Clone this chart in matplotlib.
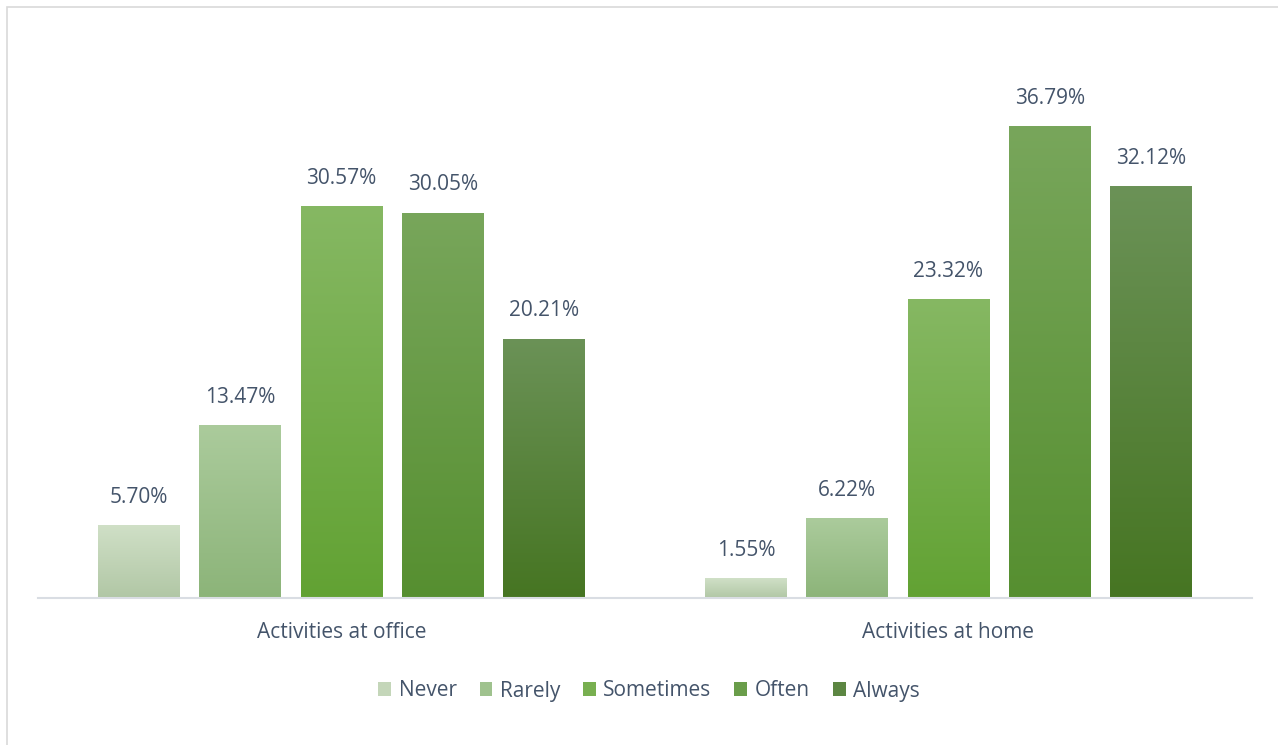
import numpy as np
import matplotlib as mpl; mpl.use('Agg')
import matplotlib.pyplot as plt
from matplotlib.colors import LinearSegmentedColormap
from matplotlib.patches import Rectangle

plt.rcParams['font.family'] = ['Open Sans', 'DejaVu Sans']
TXT = '#44546a'

groups = ['Activities at office', 'Activities at home']
levels = ['Never', 'Rarely', 'Sometimes', 'Often', 'Always']
never = [5.70, 1.55]
rarely = [13.47, 6.22]
sometimes = [30.57, 23.32]
often = [30.05, 36.79]
always = [20.21, 32.12]
series = [never, rarely, sometimes, often, always]

# (top, bottom) gradient colours for each frequency level
grad = [('#d0e0c7', '#b1c7a5'),
        ('#abcb9c', '#8cb479'),
        ('#86b863', '#62a233'),
        ('#78a65b', '#568f30'),
        ('#6b9257', '#467522')]

fig = plt.figure(figsize=(12.78, 7.45), dpi=100)
ax = fig.add_axes([38/1278, (745-598)/745, (1252-38)/1278, (598-85)/745])
ax.set_xlim(-0.5, 1.5); ax.set_ylim(0, 40)

x = np.arange(len(groups))
pitch = 0.1669; w = 0.135
for i, (vals, (ctop, cbot)) in enumerate(zip(series, grad)):
    pos = x + (i - 2) * pitch
    bars = ax.bar(pos, vals, w, color='none', edgecolor='none', label='_nolegend_')
    cmap = LinearSegmentedColormap.from_list('g%d' % i, [cbot, ctop])
    for b, v in zip(bars, vals):
        x0 = b.get_x()
        im = ax.imshow(np.linspace(0, 1, 256).reshape(-1, 1), cmap=cmap, origin='lower',
                       aspect='auto', extent=(x0, x0 + w, 0, v), zorder=2)
        im.set_clip_path(b)
        ax.annotate(f'{v:.2f}%', (x0 + w/2, v), xytext=(0, 12.5), textcoords='offset points',
                    ha='center', va='bottom', fontsize=15, color=TXT)
    # legend swatch in a mid-to-upper tone of the gradient
    ax.bar([np.nan], [np.nan], color=cmap(0.6), label=levels[i])

ax.set_xlim(-0.5, 1.5); ax.set_ylim(0, 40)
ax.set_yticks([])
ax.set_xticks(x); ax.set_xticklabels(groups, fontsize=15, color=TXT)
ax.tick_params(axis='x', length=0, pad=17)
for s in ['top', 'right', 'left']:
    ax.spines[s].set_visible(False)
ax.spines['bottom'].set_color('#d9dde3'); ax.spines['bottom'].set_linewidth(1.5)

h, l = ax.get_legend_handles_labels()
fig.legend(h, l, loc='center', bbox_to_anchor=(649/1278, (745-691)/745), ncol=5,
           frameon=False, fontsize=15, labelcolor=TXT, handlelength=0.62, handleheight=0.62,
           handletextpad=0.35, columnspacing=1.1)

# light chart-area border
fig.patches.append(Rectangle((7/1278, -0.1), 1.2, (745-7)/745 + 0.1, transform=fig.transFigure,
                             fill=False, edgecolor='#d9d9d9', lw=1.2))

fig.savefig('out.png', dpi=100)
